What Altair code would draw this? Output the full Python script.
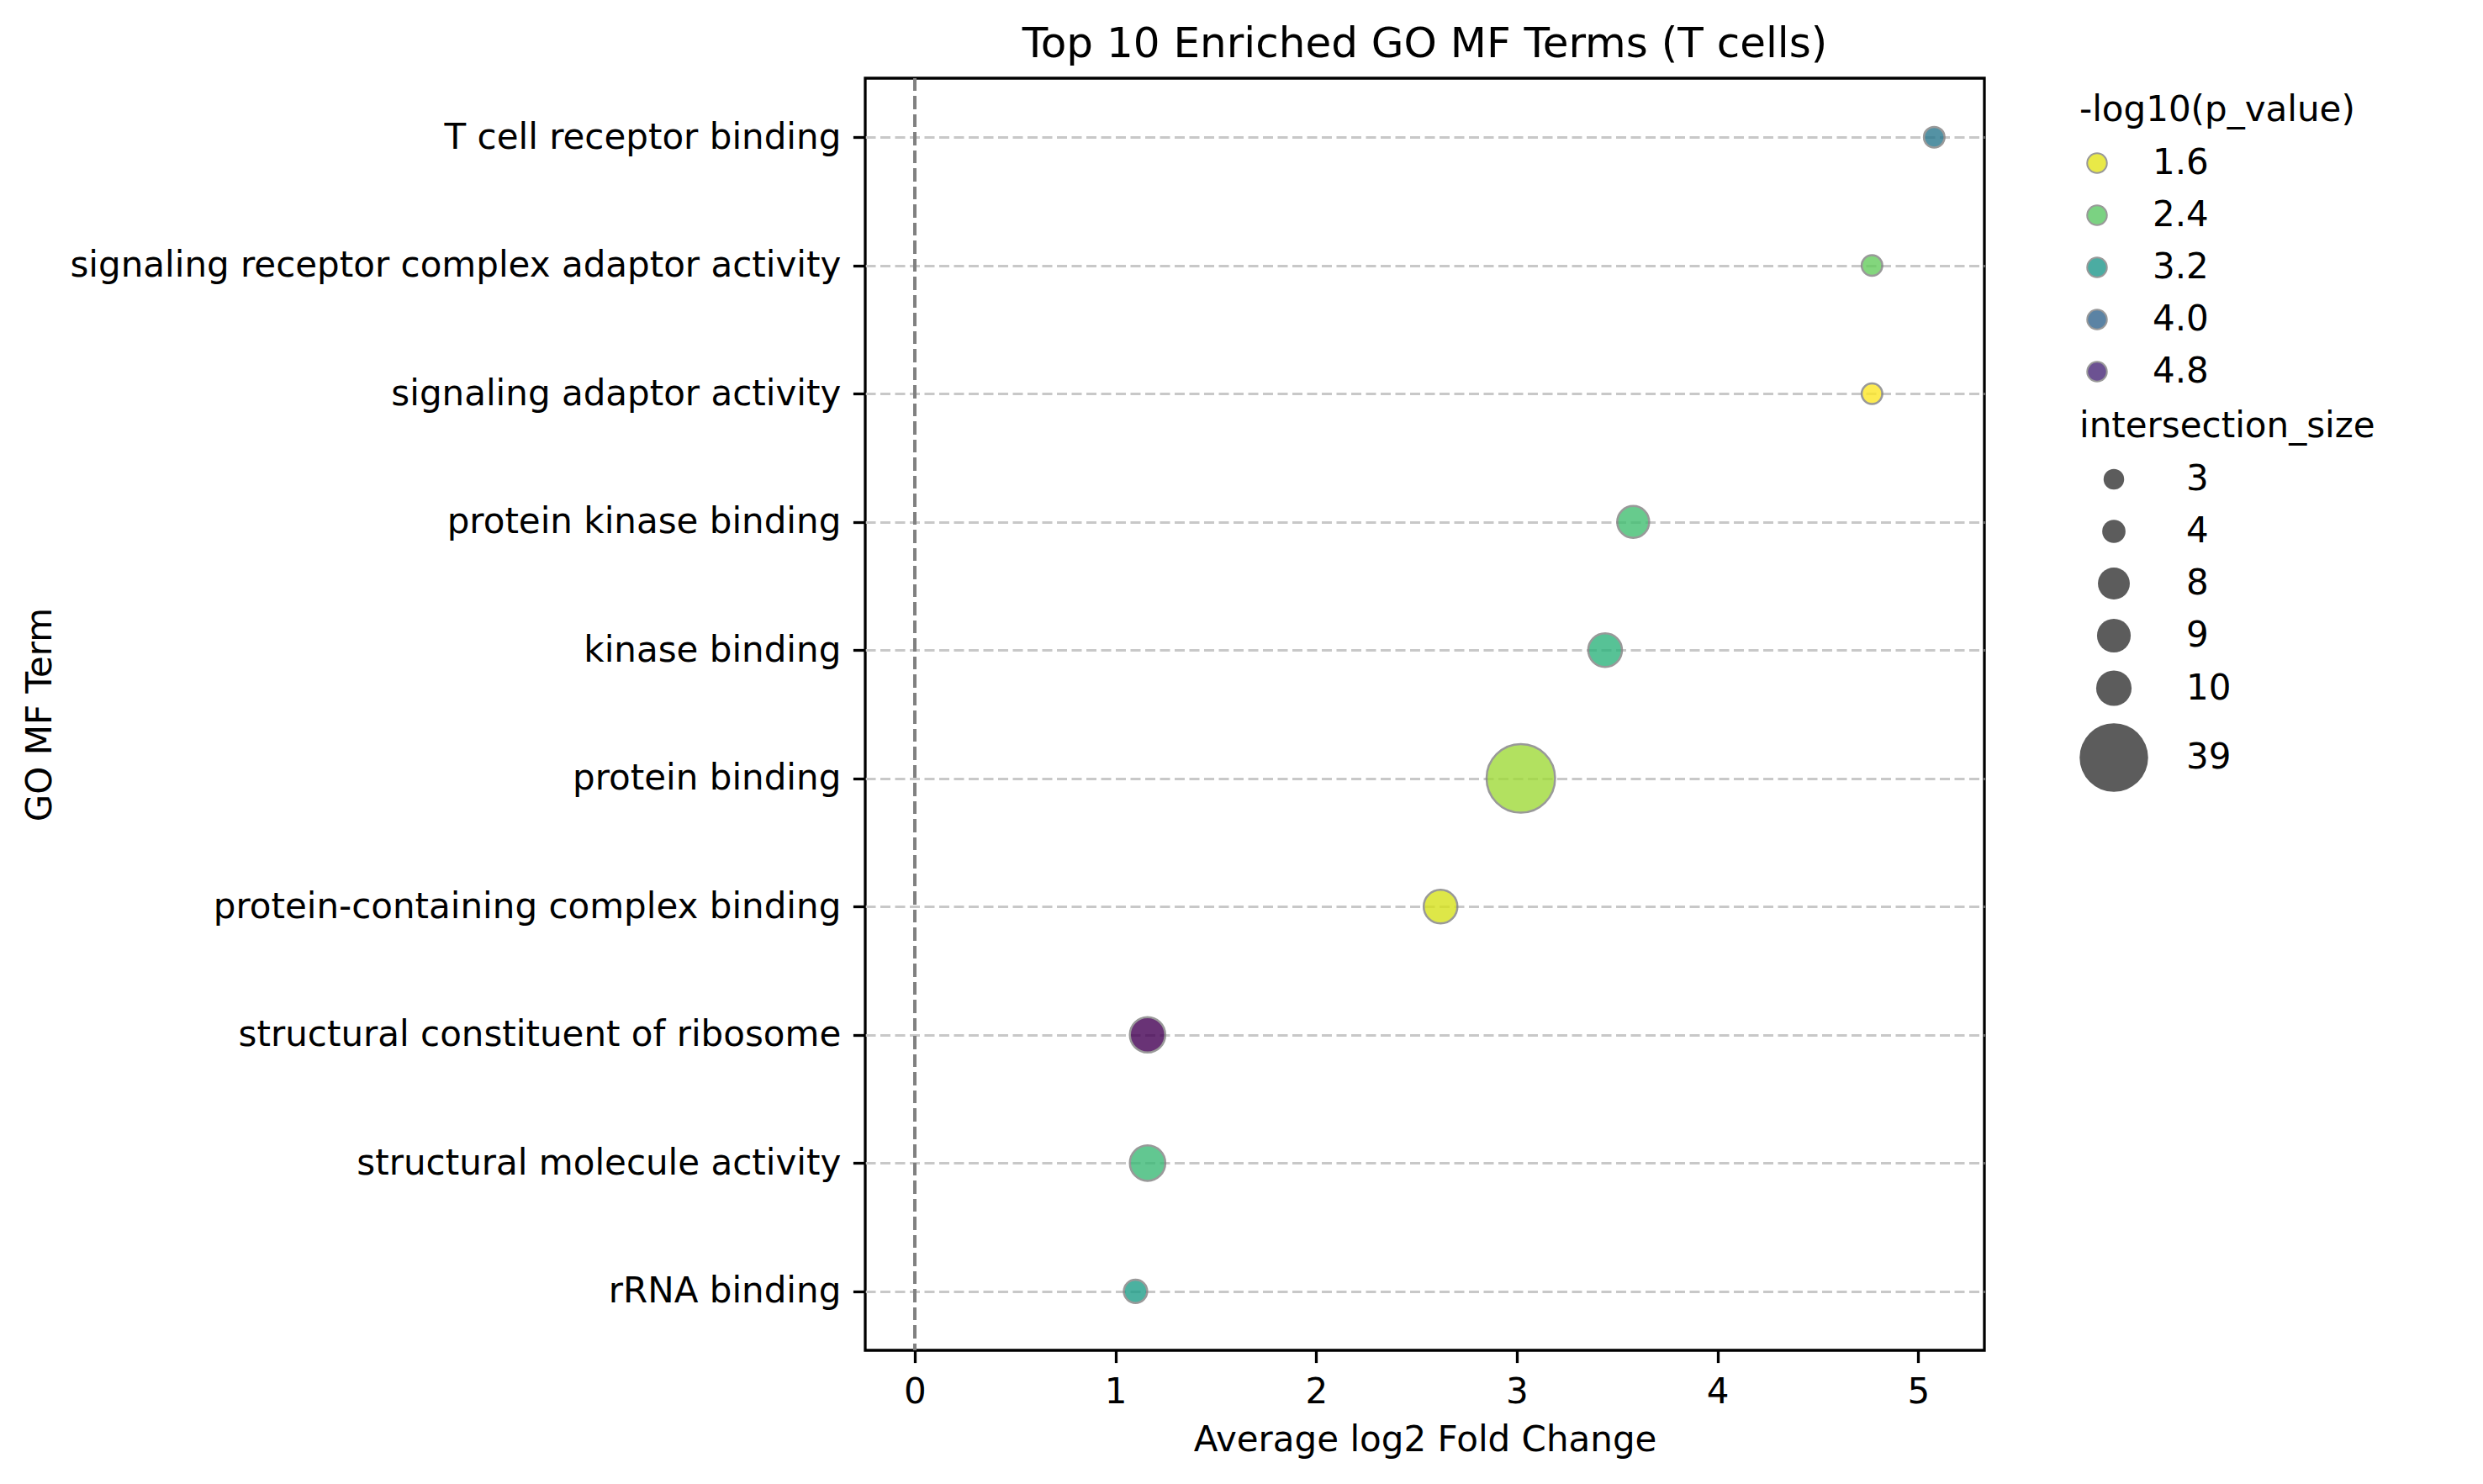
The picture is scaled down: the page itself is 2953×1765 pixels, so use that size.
import altair as alt
import pandas as pd

# GO MF enrichment, T cells
terms = [
    "T cell receptor binding",
    "signaling receptor complex adaptor activity",
    "signaling adaptor activity",
    "protein kinase binding",
    "kinase binding",
    "protein binding",
    "protein-containing complex binding",
    "structural constituent of ribosome",
    "structural molecule activity",
    "rRNA binding",
]
avg_log2fc = [5.08, 4.77, 4.77, 3.58, 3.44, 3.02, 2.62, 1.16, 1.16, 1.10]
neg_log10_p = [3.70, 2.33, 1.45, 2.58, 2.78, 1.98, 1.68, 5.20, 2.65, 3.10]
intersection_size = [3, 3, 3, 8, 9, 39, 9, 10, 10, 4]

color_ticks = [1.6, 2.4, 3.2, 4.0, 4.8]
size_ticks = [3, 4, 8, 9, 10, 39]
x_ticks = [0, 1, 2, 3, 4, 5]

df = pd.DataFrame({
    "term": terms,
    "avg_log2fc": avg_log2fc,
    "neglog10p": neg_log10_p,
    "intersection_size": intersection_size,
})

FONT = "DejaVu Sans"
W, H = 1331, 1513

x_enc = alt.X(
    "avg_log2fc:Q",
    title="Average log2 Fold Change",
    scale=alt.Scale(domain=[-0.247, 5.33], nice=False, zero=False),
    axis=alt.Axis(values=x_ticks, format="d", grid=False, titlePadding=16),
)
y_enc = alt.Y(
    "term:N",
    title="GO MF Term",
    sort=terms,
    scale=alt.Scale(padding=0.46),
    axis=alt.Axis(
        grid=True, gridColor="#c8c8c8", gridDash=[12, 5.5], gridWidth=3,
        titleX=-960, titleY=H / 2,
    ),
)

points = alt.Chart(df).mark_point(
    filled=True, opacity=0.8, stroke="#808080", strokeWidth=2.5
).encode(
    x=x_enc,
    y=y_enc,
    color=alt.Color(
        "neglog10p:Q",
        scale=alt.Scale(scheme="viridis", reverse=True,
                        domain=[min(neg_log10_p), max(neg_log10_p)]),
        legend=alt.Legend(
            title="-log10(p_value)", type="symbol", values=color_ticks,
            format=".1f", orient="none", legendX=1444, legendY=18,
            symbolSize=552, symbolStrokeColor="#808080", symbolStrokeWidth=2,
            symbolOpacity=0.8, rowPadding=20, titlePadding=20,
        ),
    ),
    size=alt.Size(
        "intersection_size:Q",
        scale=alt.Scale(domain=[3, 39], range=[600, 6642], zero=False),
        legend=alt.Legend(
            title="intersection_size", values=size_ticks,
            orient="none", legendX=1444, legendY=394,
            symbolFillColor="#333333", symbolOpacity=0.8, symbolStrokeWidth=0,
            rowPadding=20, titlePadding=20,
        ),
    ),
)

zero_line = alt.Chart(df).mark_rule(
    color="#808080", strokeDash=[15, 6.5], strokeWidth=3.3
).encode(x=alt.datum(0))

chart = (
    alt.layer(zero_line, points)
    .properties(
        width=W, height=H,
        title=alt.Title("Top 10 Enriched GO MF Terms (T cells)",
                        fontSize=50, fontWeight="normal", font=FONT,
                        color="black", offset=13),
        padding={"left": 17, "top": 20, "right": 5, "bottom": 5},
    )
    .configure_view(stroke="black", strokeWidth=3.3)
    .configure_axis(
        labelFont=FONT, titleFont=FONT, labelFontSize=42, titleFontSize=42,
        labelColor="black", titleColor="black", titleFontWeight="normal",
        domain=False, tickColor="black", tickSize=14.6, tickWidth=3.3,
        labelPadding=14.6, labelLimit=0,
    )
    .configure_legend(
        labelFont=FONT, titleFont=FONT, labelFontSize=42, titleFontSize=42,
        labelColor="black", titleColor="black", titleFontWeight="normal",
        labelOffset=45, labelLimit=0, titleLimit=0,
    )
)

chart.save("out.html", embed_options={"renderer": "svg", "actions": False})
